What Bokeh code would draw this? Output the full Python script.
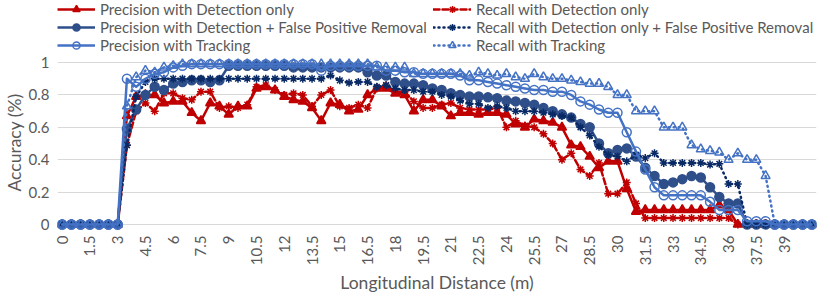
import math
from bokeh.plotting import figure
from bokeh.models import Range1d, FixedTicker, NumeralTickFormatter, Legend, LegendItem, Title
from bokeh.embed import file_html
from bokeh.resources import INLINE

distance = [0, 0.5, 1, 1.5, 2, 2.5, 3, 3.5, 4, 4.5, 5, 5.5, 6, 6.5, 7, 7.5, 8, 8.5, 9, 9.5,
            10, 10.5, 11, 11.5, 12, 12.5, 13, 13.5, 14, 14.5, 15, 15.5, 16, 16.5, 17, 17.5, 18, 18.5, 19, 19.5,
            20, 20.5, 21, 21.5, 22, 22.5, 23, 23.5, 24, 24.5, 25, 25.5, 26, 26.5, 27, 27.5, 28, 28.5, 29, 29.5,
            30, 30.5, 31, 31.5, 32, 32.5, 33, 33.5, 34, 34.5, 35, 35.5, 36, 36.5, 37, 37.5, 38, 38.5, 39, 39.5,
            40, 40.5]
x_tick_values = [0, 1.5, 3, 4.5, 6, 7.5, 9, 10.5, 12, 13.5, 15, 16.5, 18, 19.5, 21, 22.5, 24, 25.5, 27,
                 28.5, 30, 31.5, 33, 34.5, 36, 37.5, 39]
y_tick_values = [0, 0.2, 0.4, 0.6, 0.8, 1]

precision_det = [
    0, 0, 0, 0, 0, 0, 0, 0.67, 0.79, 0.80,
    0.80, 0.75, 0.76, 0.76, 0.69, 0.64, 0.75, 0.73, 0.68, 0.73,
    0.73, 0.84, 0.85, 0.83, 0.79, 0.77, 0.76, 0.72, 0.64, 0.75,
    0.74, 0.70, 0.71, 0.80, 0.84, 0.84, 0.81, 0.80, 0.70, 0.77,
    0.77, 0.73, 0.67, 0.69, 0.69, 0.68, 0.69, 0.69, 0.68, 0.62,
    0.60, 0.65, 0.64, 0.63, 0.60, 0.49, 0.48, 0.42, 0.35, 0.39,
    0.39, 0.22, 0.08, 0.09, 0.09, 0.09, 0.09, 0.09, 0.09, 0.09,
    0.09, 0.12, 0.09, 0, 0, 0, 0, 0, 0, 0,
    0, 0]
recall_det = [
    0, 0, 0, 0, 0, 0, 0, 0.49, 0.70, 0.75,
    0.70, 0.81, 0.81, 0.78, 0.77, 0.82, 0.82, 0.72, 0.73, 0.72,
    0.74, 0.85, 0.86, 0.83, 0.80, 0.81, 0.80, 0.73, 0.80, 0.83,
    0.73, 0.72, 0.74, 0.72, 0.84, 0.86, 0.82, 0.82, 0.76, 0.72,
    0.72, 0.74, 0.75, 0.72, 0.71, 0.71, 0.71, 0.72, 0.60, 0.64,
    0.61, 0.60, 0.56, 0.50, 0.40, 0.44, 0.34, 0.30, 0.38, 0.19,
    0.19, 0.26, 0.13, 0.04, 0.04, 0.04, 0.04, 0.04, 0.04, 0.04,
    0.04, 0.04, 0.04, 0, 0, 0, 0, 0, 0, 0,
    0, 0]
precision_fpr = [
    0, 0, 0, 0, 0, 0, 0, 0.59, 0.71, 0.80,
    0.85, 0.83, 0.87, 0.88, 0.89, 0.89, 0.88, 0.89, 0.98, 0.98,
    0.98, 0.98, 0.98, 0.98, 0.98, 0.97, 0.97, 0.97, 0.97, 0.97,
    0.97, 0.97, 0.97, 0.94, 0.92, 0.92, 0.88, 0.87, 0.87, 0.86,
    0.84, 0.83, 0.81, 0.80, 0.79, 0.79, 0.785, 0.78, 0.765, 0.76,
    0.75, 0.74, 0.72, 0.70, 0.68, 0.66, 0.62, 0.60, 0.50, 0.44,
    0.46, 0.47, 0.42, 0.35, 0.30, 0.25, 0.26, 0.28, 0.30, 0.29,
    0.23, 0.17, 0.13, 0.13, 0, 0, 0, 0, 0, 0,
    0, 0]
recall_fpr = [
    0, 0, 0, 0, 0, 0, 0, 0.49, 0.79, 0.88,
    0.90, 0.90, 0.90, 0.90, 0.90, 0.90, 0.90, 0.90, 0.90, 0.90,
    0.90, 0.90, 0.90, 0.90, 0.90, 0.90, 0.90, 0.90, 0.90, 0.92,
    0.89, 0.875, 0.88, 0.88, 0.85, 0.86, 0.84, 0.83, 0.83, 0.82,
    0.82, 0.80, 0.79, 0.765, 0.745, 0.745, 0.72, 0.73, 0.72, 0.70,
    0.70, 0.70, 0.69, 0.68, 0.67, 0.66, 0.60, 0.55, 0.48, 0.43,
    0.42, 0.39, 0.43, 0.41, 0.44, 0.38, 0.38, 0.38, 0.38, 0.38,
    0.37, 0.375, 0.25, 0.25, 0, 0, 0, 0, 0, 0,
    0, 0]
precision_track = [
    0, 0, 0, 0, 0, 0, 0, 0.90, 0.85, 0.90,
    0.93, 0.94, 0.97, 0.98, 0.99, 0.99, 0.99, 0.99, 0.99, 0.99,
    0.99, 0.99, 0.99, 0.99, 0.99, 0.99, 0.99, 0.99, 0.95, 0.98,
    0.98, 0.98, 0.98, 0.98, 0.98, 0.95, 0.95, 0.94, 0.94, 0.93,
    0.93, 0.93, 0.93, 0.92, 0.89, 0.89, 0.88, 0.87, 0.86, 0.85,
    0.84, 0.83, 0.83, 0.82, 0.82, 0.80, 0.76, 0.74, 0.71, 0.69,
    0.69, 0.57, 0.45, 0.34, 0.23, 0.18, 0.18, 0.18, 0.18, 0.18,
    0.14, 0.09, 0.09, 0.09, 0.02, 0.02, 0.02, 0, 0, 0,
    0, 0]
recall_track = [
    0, 0, 0, 0, 0, 0, 0, 0.73, 0.91, 0.95,
    0.94, 0.97, 0.98, 0.99, 0.99, 0.99, 0.99, 0.99, 0.99, 0.99,
    0.99, 0.99, 0.99, 0.99, 0.99, 0.99, 0.99, 0.99, 0.99, 0.99,
    0.99, 0.99, 0.99, 0.99, 0.97, 0.97, 0.97, 0.97, 0.93, 0.93,
    0.93, 0.93, 0.93, 0.93, 0.92, 0.94, 0.93, 0.92, 0.93, 0.91,
    0.90, 0.93, 0.91, 0.90, 0.90, 0.89, 0.88, 0.87, 0.87, 0.85,
    0.80, 0.80, 0.70, 0.70, 0.70, 0.60, 0.60, 0.60, 0.49, 0.465,
    0.455, 0.445, 0.40, 0.44, 0.40, 0.40, 0.30, 0, 0, 0,
    0, 0]

series = [
    ("Precision with Detection only", precision_det, "#C00000", "solid", "triangle", True),
    ("Recall with Detection only", recall_det, "#C00000", "6 3", "asterisk", True),
    ("Precision with Detection + False Positive Removal", precision_fpr, "#2F4F8A", "solid", "circle", True),
    ("Recall with Detection only + False Positive Removal", recall_fpr, "#0A2A66", "1 4", "asterisk", True),
    ("Precision with Tracking", precision_track, "#4472C4", "solid", "circle", False),
    ("Recall with Tracking", recall_track, "#4472C4", "1 4", "triangle", False),
]

FONT = "Lato"
GRAY = "#595959"

p = figure(frame_width=759, frame_height=230, output_backend="svg", toolbar_location=None,
           x_range=Range1d(-0.25, 40.75), y_range=Range1d(-0.037, 1.383),
           min_border_left=53, min_border_right=2, min_border_top=0, min_border_bottom=60)
p.outline_line_color = None
p.background_fill_color = "white"
p.xgrid.grid_line_color = None
p.ygrid.grid_line_color = "#D9D9D9"
p.ygrid.grid_line_width = 1
p.ygrid.ticker = FixedTicker(ticks=y_tick_values)
p.yaxis.ticker = FixedTicker(ticks=y_tick_values)
p.xaxis.ticker = FixedTicker(ticks=x_tick_values)
p.xaxis.formatter = NumeralTickFormatter(format="0.[0]")
p.yaxis.formatter = NumeralTickFormatter(format="0.[0]")
p.xaxis.major_label_orientation = math.pi / 2
for ax in (p.xaxis[0], p.yaxis[0]):
    ax.axis_line_color = None
    ax.major_tick_line_color = None
    ax.minor_tick_line_color = None
    ax.major_tick_out = 0
    ax.major_tick_in = 0
    ax.minor_tick_out = 0
    ax.minor_tick_in = 0
    ax.major_label_text_font = FONT
    ax.major_label_text_font_size = "15px"
    ax.major_label_text_color = GRAY
    ax.axis_label_text_font = FONT
    ax.axis_label_text_font_size = "17.5px"
    ax.axis_label_text_font_style = "normal"
    ax.axis_label_text_color = GRAY
    ax.axis_label_standoff = 4
p.xaxis.axis_label = "Longitudinal Distance (m)"
p.xaxis.major_label_standoff = 5
p.yaxis.major_label_standoff = 8

ytitle = Title(text="Accuracy (%)", align="left", offset=39,
               text_font=FONT, text_font_size="17.5px", text_font_style="normal",
               text_color=GRAY, standoff=2)
p.add_layout(ytitle, "left")

items = []
for name, vals, color, dash, marker, filled in series:
    lr = p.line(distance, vals, line_color=color, line_width=2.5, line_dash=dash,
                line_cap="round" if dash != "solid" else "butt", line_join="round")
    sr = p.scatter(distance, vals, marker=marker, size=9 if marker != "asterisk" else 8,
                   line_color=color, line_width=1.5,
                   fill_color=color if filled else "white",
                   fill_alpha=1.0 if filled else 0.0)
    items.append(LegendItem(label=name, renderers=[lr, sr]))

def make_legend(its, loc):
    lg = Legend(items=its, location=loc, orientation="vertical",
                glyph_width=38, glyph_height=18, label_height=18, label_standoff=5,
                spacing=0, padding=0, margin=0,
                label_text_font=FONT, label_text_font_size="15px", label_text_color=GRAY,
                border_line_color=None, background_fill_alpha=0.0)
    p.add_layout(lg, "center")

make_legend([items[0], items[2], items[4]], (0, 176))
make_legend([items[1], items[3], items[5]], (376, 176))

open("out.html", "w").write(file_html(p, INLINE))
